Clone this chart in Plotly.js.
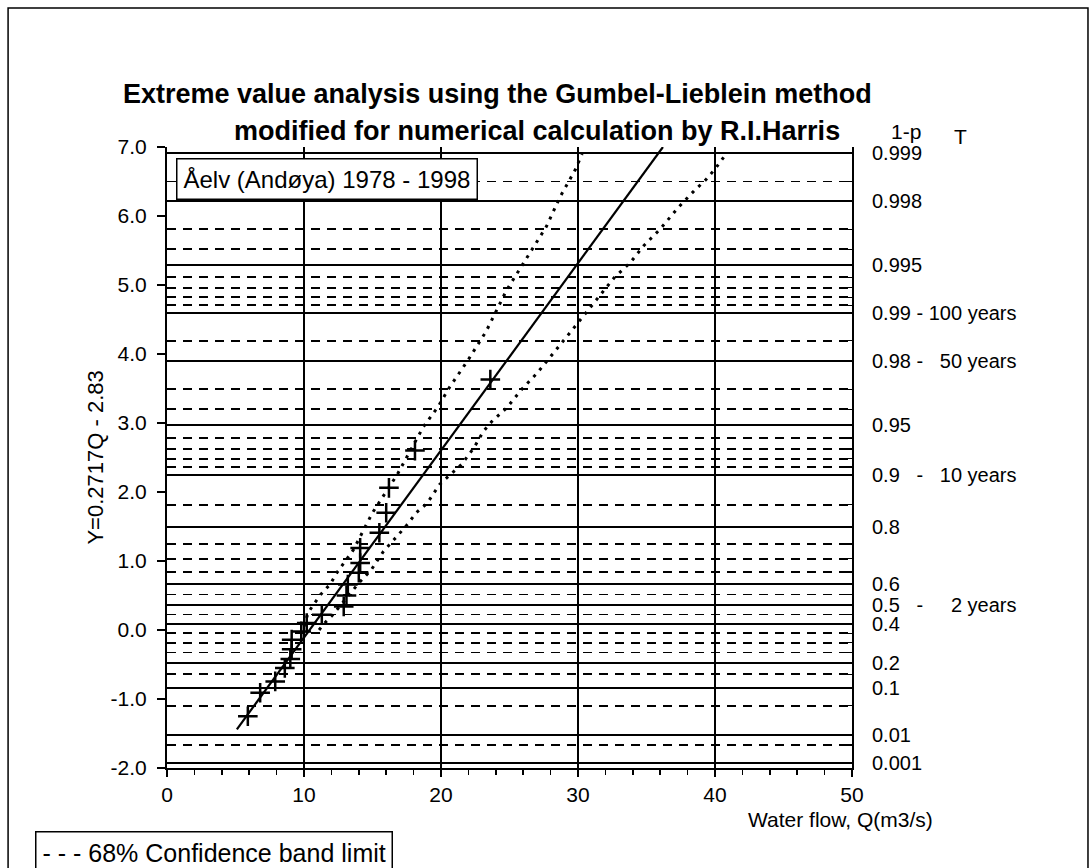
<!DOCTYPE html>
<html>
<head>
<meta charset="utf-8">
<script src="https://cdn.plot.ly/plotly-3.0.1.min.js"></script>
<style>html,body{margin:0;padding:0;background:#fff;}#chart{width:1091px;height:868px;}</style>
</head>
<body>
<div id="chart"></div>
<script>
// Observed annual maxima (water flow Q) and their Gumbel reduced variates Y
var flowQ = [5.9, 6.8, 7.9, 8.6, 9.0, 9.1, 9.1, 9.8, 10.2, 11.3, 12.9, 13.1, 13.2, 14.0, 14.1, 14.1, 15.5, 16.0, 16.2, 18.1, 23.6];
var reducedY = [-1.25, -0.91, -0.745, -0.55, -0.42, -0.28, -0.14, -0.02, 0.10, 0.22, 0.34, 0.50, 0.66, 0.83, 0.97, 1.19, 1.41, 1.70, 2.06, 2.60, 3.63];

// Fitted line Y = 0.2717Q - 2.83 (end points as drawn)
var fitQ = [5.1, 36.2];
var fitY = [-1.44, 7.0];

// 68% confidence band limits
var upperQ = [10.0, 10.3, 10.7, 11.2, 11.9, 12.4, 13.6, 15.0, 16.8, 18.7, 19.8, 20.6, 22.0, 23.3, 24.8, 26.3, 27.7, 28.7, 29.8, 30.3];
var upperY = [0.05, 0.25, 0.37, 0.51, 0.66, 0.83, 1.16, 1.70, 2.25, 2.94, 3.24, 3.51, 3.92, 4.33, 4.93, 5.41, 5.85, 6.28, 6.67, 6.9];
var lowerQ = [11.1, 11.5, 12.1, 12.5, 14.0, 14.9, 15.8, 16.8, 17.5, 18.2, 19.0, 19.9, 20.7, 21.5, 22.4, 23.1, 23.7, 24.8, 25.9, 27.0, 27.7, 28.9, 29.5, 32.7, 33.8, 34.8, 36.0, 37.3, 38.5, 39.3, 40.0, 40.7];
var lowerY = [0.0, 0.1, 0.22, 0.32, 0.68, 0.87, 1.14, 1.36, 1.52, 1.70, 1.84, 2.11, 2.25, 2.40, 2.64, 2.88, 3.02, 3.22, 3.49, 3.72, 3.89, 4.18, 4.33, 5.12, 5.32, 5.57, 5.81, 6.12, 6.37, 6.52, 6.68, 6.87];

// Probability lines (1-p) : solid (labelled) and dashed (intermediate)
var NB = '\u00a0';
var solidLabels = ['0.999', '0.998', '0.995', '0.99 - 100 years', '0.98 -' + NB + NB + NB + '50 years', '0.95',
  '0.9' + NB + NB + NB + '-' + NB + NB + NB + '10 years', '0.8', '0.6',
  '0.5' + NB + NB + NB + '-' + NB + NB + NB + NB + NB + '2 years', '0.4', '0.2', '0.1', '0.01', '0.001'];
var solidY = [6.907, 6.213, 5.296, 4.600, 3.902, 2.970, 2.250, 1.500, 0.672, 0.367, 0.087, -0.476, -0.834, -1.527, -1.933];
var dashedProb = ['0.9985', '0.997', '0.996', '0.994', '0.993', '0.992', '0.991', '0.985', '0.97', '0.96', '0.94', '0.93', '0.92', '0.91', '0.85', '0.75', '0.7', '0.65', '0.55', '0.45', '0.35', '0.3', '0.25', '0.15', '0.05', '0.005'];
var dashedY = [6.500, 5.807, 5.519, 5.113, 4.958, 4.824, 4.706, 4.192, 3.491, 3.199, 2.783, 2.623, 2.484, 2.361, 1.817, 1.246, 1.031, 0.842, 0.514, 0.225, -0.049, -0.186, -0.327, -0.640, -1.097, -1.667];

var xTicks = [0, 10, 20, 30, 40, 50];
var yTicks = [-2, -1, 0, 1, 2, 3, 4, 5, 6, 7];
var yTickText = ['-2.0', '-1.0', '0.0', '1.0', '2.0', '3.0', '4.0', '5.0', '6.0', '7.0'];

var FONT = 'Liberation Sans, Arial, sans-serif';

var traces = [
  {x: [null], y: [null], xaxis: 'x', yaxis: 'y2', mode: 'markers', showlegend: false, hoverinfo: 'skip'},
  {x: [null], y: [null], xaxis: 'x', yaxis: 'y3', mode: 'markers', showlegend: false, hoverinfo: 'skip'},
  {x: upperQ, y: upperY, mode: 'lines', line: {color: '#000', width: 3, dash: '3px,6px'}, showlegend: false, hoverinfo: 'skip'},
  {x: lowerQ, y: lowerY, mode: 'lines', line: {color: '#000', width: 3, dash: '3px,6px'}, showlegend: false, hoverinfo: 'skip'},
  {x: fitQ, y: fitY, mode: 'lines', line: {color: '#000', width: 2.2}, showlegend: false},
  {x: flowQ, y: reducedY, mode: 'markers', marker: {symbol: 'cross-thin', size: 14, color: '#000', line: {color: '#000', width: 2.5}}, showlegend: false}
];

var layout = {
  width: 1091, height: 868,
  margin: {l: 167, r: 239, t: 147, b: 100, pad: 0},
  paper_bgcolor: '#fff', plot_bgcolor: '#fff',
  font: {family: FONT, size: 21, color: '#000'},
  showlegend: false,
  xaxis: {
    range: [0, 50], tickvals: xTicks, ticktext: xTicks.map(String),
    showgrid: true, gridcolor: '#000', gridwidth: 2, zeroline: false,
    showline: true, linecolor: '#000', linewidth: 2,
    ticks: 'outside', ticklen: 7, tickwidth: 1.5, tickcolor: '#000',
    minor: {dtick: 2, ticks: 'outside', ticklen: 5, tickwidth: 1.5, tickcolor: '#000', showgrid: false},
    tickfont: {family: FONT, size: 21, color: '#000'}
  },
  yaxis: {
    range: [-2, 7], tickvals: yTicks, ticktext: yTickText,
    showgrid: false, zeroline: false,
    showline: true, linecolor: '#000', linewidth: 2,
    ticks: 'outside', ticklen: 8, tickwidth: 1.5, tickcolor: '#000', ticklabelstandoff: 6,
    tickfont: {family: FONT, size: 21, color: '#000'}
  },
  yaxis2: {
    overlaying: 'y', side: 'right', range: [-2, 7],
    tickvals: solidY, ticktext: solidLabels,
    showgrid: true, gridcolor: '#000', gridwidth: 2, zeroline: false,
    showline: true, linecolor: '#000', linewidth: 2,
    ticks: 'inside', ticklen: 7, tickwidth: 1.5, tickcolor: '#000', ticklabelstandoff: 14,
    tickfont: {family: FONT, size: 20, color: '#000'}
  },
  yaxis3: {
    overlaying: 'y', side: 'right', range: [-2, 7],
    tickvals: dashedY, ticktext: dashedProb, showticklabels: false,
    showgrid: true, gridcolor: '#000', gridwidth: 1.8, griddash: '9px,7px', zeroline: false,
    showline: false, ticks: 'inside', ticklen: 4, tickwidth: 1.2, tickcolor: '#000'
  },
  shapes: [
    {type: 'rect', xref: 'paper', yref: 'paper', x0: -0.232, x1: 1.3445, y0: -0.2, y1: 1.2238,
     line: {color: '#000', width: 1.5}, fillcolor: 'rgba(0,0,0,0)', layer: 'below'}
  ],
  annotations: [
    {xref: 'paper', yref: 'paper', x: 0.4832, y: 1.0853, xanchor: 'center', yanchor: 'middle', showarrow: false,
     text: '<b>Extreme value analysis using the Gumbel-Lieblein method</b>', font: {family: FONT, size: 27, color: '#000'}},
    {xref: 'paper', yref: 'paper', x: 0.5401, y: 1.0258, xanchor: 'center', yanchor: 'middle', showarrow: false,
     text: '<b>modified for numerical calculation by R.I.Harris</b>', font: {family: FONT, size: 27, color: '#000'}},
    {xref: 'paper', yref: 'paper', x: 1.0788, y: 1.0242, xanchor: 'center', yanchor: 'middle', showarrow: false,
     text: '1-p', font: {family: FONT, size: 21, color: '#000'}},
    {xref: 'paper', yref: 'paper', x: 1.1577, y: 1.0177, xanchor: 'center', yanchor: 'middle', showarrow: false,
     text: 'T', font: {family: FONT, size: 21, color: '#000'}},
    {xref: 'paper', yref: 'paper', x: -0.105, y: 0.5, xanchor: 'center', yanchor: 'middle', showarrow: false, textangle: -90,
     text: 'Y=0.2717Q - 2.83', font: {family: FONT, size: 22, color: '#000'}},
    {xref: 'paper', yref: 'paper', x: 0.9825, y: -0.061, xanchor: 'center', yanchor: 'top', showarrow: false,
     text: 'Water flow, Q(m3/s)', font: {family: FONT, size: 21, color: '#000'}},
    {xref: 'paper', yref: 'paper', x: 0.0131, y: 0.9823, xanchor: 'left', yanchor: 'top', showarrow: false,
     text: 'Åelv (Andøya) 1978 - 1998', font: {family: FONT, size: 24, color: '#000'},
     bgcolor: '#fff', bordercolor: '#000', borderwidth: 1.5, borderpad: 6},
    {xref: 'paper', yref: 'paper', x: -0.1927, y: -0.1014, xanchor: 'left', yanchor: 'top', showarrow: false,
     text: '- - - 68% Confidence band limit', font: {family: FONT, size: 25, color: '#000'},
     bgcolor: '#fff', bordercolor: '#000', borderwidth: 1.5, borderpad: 6}
  ]
};

Plotly.newPlot('chart', traces, layout, {staticPlot: true, displayModeBar: false});
</script>
</body>
</html>
